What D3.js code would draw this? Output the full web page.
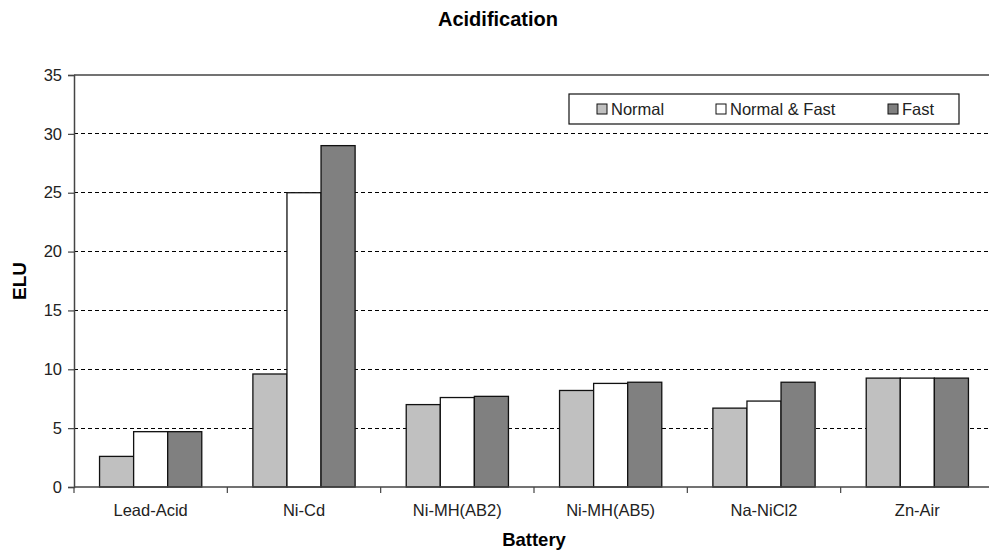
<!DOCTYPE html>
<html>
<head>
<meta charset="utf-8">
<script src="https://cdn.jsdelivr.net/npm/d3@7"></script>
<style>
  html, body { margin: 0; padding: 0; background: #fff; }
  svg { display: block; font-family: Arial, "Liberation Sans", sans-serif; }
</style>
</head>
<body>
<svg id="chart" width="989" height="553"></svg>
<script>
// Acidification impact (ELU) per battery type and charging mode
const categories = ["Lead-Acid", "Ni-Cd", "Ni-MH(AB2)", "Ni-MH(AB5)", "Na-NiCl2", "Zn-Air"];
const seriesNames = ["Normal", "Normal & Fast", "Fast"];
const normalValues     = [2.6, 9.6, 7.0, 8.2, 6.7, 9.25];
const normalFastValues = [4.7, 25.0, 7.6, 8.8, 7.3, 9.25];
const fastValues       = [4.7, 29.0, 7.7, 8.9, 8.9, 9.25];
const yTicks = [0, 5, 10, 15, 20, 25, 30, 35];

const series = [normalValues, normalFastValues, fastValues];
const fills = ["#c0c0c0", "#ffffff", "#808080"];

const svg = d3.select("#chart");
const plotLeft = 74, plotTop = 75, plotBottom = 487;
const plotWidth = 920; // plot runs slightly past the right edge of the canvas

const x = d3.scaleBand().domain(categories).range([plotLeft, plotLeft + plotWidth]).paddingInner(0).paddingOuter(0);
// Excel-style 150% gap width: each bar is 1/4.5 of a category
const barW = x.bandwidth() / 4.5;
const xs = d3.scaleBand().domain(seriesNames).range([barW * 0.75, barW * 3.75]);
const y = d3.scaleLinear().domain([0, 35]).range([plotBottom, plotTop]);

// Gridlines
svg.append("g")
  .selectAll("line")
  .data(yTicks.filter(t => t > 0 && t < 35))
  .join("line")
  .attr("x1", plotLeft).attr("x2", plotLeft + plotWidth)
  .attr("y1", d => y(d)).attr("y2", d => y(d))
  .attr("stroke", "#000").attr("stroke-width", 1)
  .attr("stroke-dasharray", "4,3")
  .attr("shape-rendering", "crispEdges");

// Plot area top border
svg.append("line")
  .attr("x1", plotLeft).attr("x2", plotLeft + plotWidth)
  .attr("y1", y(35)).attr("y2", y(35))
  .attr("stroke", "#444").attr("stroke-width", 1.3);

// Bars
const groups = svg.append("g").selectAll("g")
  .data(series)
  .join("g")
  .attr("fill", (d, i) => fills[i]);

groups.selectAll("rect")
  .data((vals, si) => vals.map((v, ci) => ({ v, ci, si })))
  .join("rect")
  .attr("x", d => x(categories[d.ci]) + xs(seriesNames[d.si]))
  .attr("width", xs.bandwidth())
  .attr("y", d => y(d.v))
  .attr("height", d => y(0) - y(d.v))
  .attr("stroke", "#111")
  .attr("stroke-width", 1.3);

// Y axis
const yAxis = d3.axisLeft(y).tickValues(yTicks).tickSize(6).tickPadding(6).tickFormat(d3.format("d"));
const gy = svg.append("g").attr("transform", `translate(${plotLeft},0)`).call(yAxis);
gy.select(".domain").attr("stroke", "#444").attr("stroke-width", 1.5);
gy.selectAll(".tick line").attr("stroke", "#444").attr("stroke-width", 1.2);
gy.selectAll(".tick text").attr("font-size", 16.5).attr("fill", "#222")
  .attr("font-family", "Arial, 'Liberation Sans', sans-serif");

// X axis with ticks between categories
const gx = svg.append("g").attr("transform", `translate(0,${plotBottom})`);
gx.append("line")
  .attr("x1", plotLeft).attr("x2", plotLeft + plotWidth)
  .attr("stroke", "#444").attr("stroke-width", 1.5);
gx.selectAll("line.sep")
  .data(categories)
  .join("line")
  .attr("class", "sep")
  .attr("x1", d => x(d)).attr("x2", d => x(d))
  .attr("y1", 0).attr("y2", 6)
  .attr("stroke", "#444").attr("stroke-width", 1.2);
gx.selectAll("text")
  .data(categories)
  .join("text")
  .attr("x", d => x(d) + x.bandwidth() / 2)
  .attr("y", 29)
  .attr("text-anchor", "middle")
  .attr("font-size", 16.5)
  .attr("fill", "#222")
  .text(d => d);

// Title and axis titles
svg.append("text")
  .attr("x", 498).attr("y", 26)
  .attr("text-anchor", "middle")
  .attr("font-size", 20).attr("font-weight", "bold")
  .text("Acidification");

svg.append("text")
  .attr("x", plotLeft + plotWidth / 2).attr("y", 546)
  .attr("text-anchor", "middle")
  .attr("font-size", 18.5).attr("font-weight", "bold")
  .text("Battery");

svg.append("text")
  .attr("transform", `translate(26,${(plotTop + plotBottom) / 2}) rotate(-90)`)
  .attr("text-anchor", "middle")
  .attr("font-size", 19).attr("font-weight", "bold")
  .text("ELU");

// Legend
const legend = svg.append("g").attr("transform", "translate(569,94)");
legend.append("rect")
  .attr("width", 390).attr("height", 30)
  .attr("fill", "#fff").attr("stroke", "#111").attr("stroke-width", 1.2);
const legendX = [28, 147, 319];
const items = legend.selectAll("g.item")
  .data(seriesNames)
  .join("g")
  .attr("class", "item")
  .attr("transform", (d, i) => `translate(${legendX[i]},0)`);
items.append("rect")
  .attr("x", 0).attr("y", 10)
  .attr("width", 10).attr("height", 10)
  .attr("fill", (d, i) => fills[i])
  .attr("stroke", "#111").attr("stroke-width", 1);
items.append("text")
  .attr("x", 14).attr("y", 21)
  .attr("font-size", 16.5)
  .attr("fill", "#222")
  .text(d => d);
</script>
</body>
</html>
